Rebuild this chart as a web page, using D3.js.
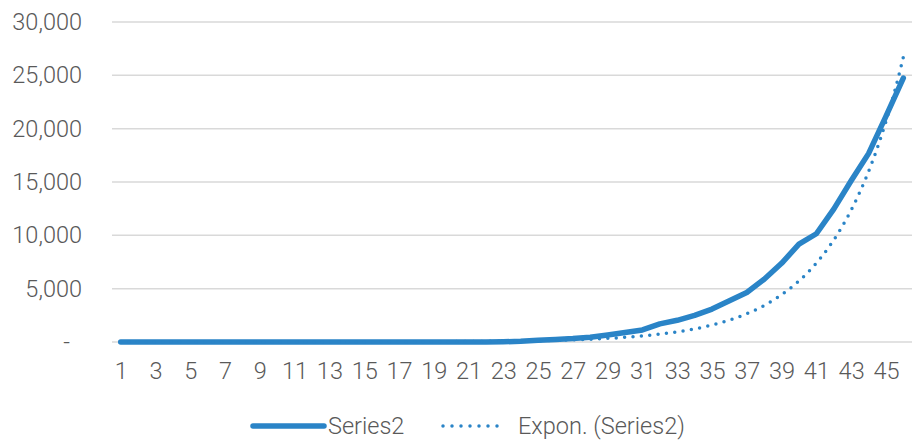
<!DOCTYPE html>
<html>
<head>
<meta charset="utf-8">
<script src="https://cdn.jsdelivr.net/npm/d3@7/dist/d3.min.js"></script>
<style>
  html, body { margin: 0; padding: 0; background: #fff; }
  svg { display: block; }
  text { font-family: Roboto, "Liberation Sans", Arial, sans-serif; font-weight: 300; fill: #595959; }
</style>
</head>
<body>
<svg id="chart" width="912" height="440"></svg>
<script>
// ---- Data ----
const categories = [1,2,3,4,5,6,7,8,9,10,11,12,13,14,15,16,17,18,19,20,21,22,23,24,25,26,27,28,29,30,31,32,33,34,35,36,37,38,39,40,41,42,43,44,45,46];
const series2 = [2,2,2,2,2,2,2,2,3,3,3,3,3,3,3,3,3,3,3,3,3,3,20,62,155,229,322,453,655,888,1128,1694,2036,2502,3089,3858,4636,5883,7375,9172,10149,12462,15113,17660,21157,24747];
const yTicks = [0,5000,10000,15000,20000,25000,30000];
const xTickLabels = [1,3,5,7,9,11,13,15,17,19,21,23,25,27,29,31,33,35,37,39,41,43,45];
const seriesNames = ["Series2", "Expon. (Series2)"];

// ---- Layout ----
const svg = d3.select("#chart");
const plot = { left: 112, right: 912, top: 22, bottom: 342 };
const blue = "#2A84C7";
const grid = "#D9D9D9";
const fs = 23.5;

const x = d3.scalePoint().domain(categories).range([plot.left, plot.right]).padding(0.5);
const y = d3.scaleLinear().domain([0, 30000]).range([plot.bottom, plot.top]);
const xLin = d3.scaleLinear().domain([categories[0], categories[categories.length-1]])
  .range([x(categories[0]), x(categories[categories.length-1])]);

// gridlines
svg.append("g").selectAll("line").data(yTicks).join("line")
  .attr("x1", plot.left).attr("x2", plot.right)
  .attr("y1", d => y(d)).attr("y2", d => y(d))
  .attr("stroke", grid).attr("stroke-width", 1.5);

// y axis labels
const fmt = d3.format(",");
const yAxis = svg.append("g").attr("transform", `translate(82,0)`)
  .call(d3.axisLeft(y).tickValues(yTicks).tickSize(0).tickPadding(0)
    .tickFormat(d => d === 0 ? "-" : fmt(d)));
yAxis.select(".domain").remove();
yAxis.selectAll("text")
  .attr("font-size", fs).attr("fill", "#595959")
  .attr("font-family", null)
  .attr("dx", d => d === 0 ? -12 : 0);

// x axis labels
const xAxis = svg.append("g").attr("transform", `translate(0,${plot.bottom})`)
  .call(d3.axisBottom(x).tickValues(xTickLabels).tickSize(0).tickPadding(20));
xAxis.select(".domain").remove();
xAxis.selectAll("text").attr("font-size", fs).attr("fill", "#595959").attr("font-family", null);

// series line
const line = d3.line().x((d, i) => x(categories[i])).y(d => y(d));
svg.append("path").datum(series2)
  .attr("d", line)
  .attr("fill", "none").attr("stroke", blue).attr("stroke-width", 5.5)
  .attr("stroke-linejoin", "round").attr("stroke-linecap", "round");

// exponential trendline (least squares on ln y, as the spreadsheet does)
const n = categories.length;
const lx = categories, ly = series2.map(v => Math.log(v));
const mx = d3.mean(lx), my = d3.mean(ly);
let sxy = 0, sxx = 0;
for (let i = 0; i < n; i++) { sxy += (lx[i]-mx)*(ly[i]-my); sxx += (lx[i]-mx)*(lx[i]-mx); }
const b = sxy / sxx, lna = my - b * mx;
const steps = 400;
const trendPts = [];
for (let k = 0; k <= steps; k++) {
  const t = lx[0] + (lx[n-1]-lx[0]) * k / steps;
  trendPts.push([t, Math.exp(lna + b * t)]);
}
svg.append("path").datum(trendPts)
  .attr("d", d3.line().x(d => xLin(d[0])).y(d => y(d[1])))
  .attr("fill", "none").attr("stroke", blue).attr("stroke-width", 3.5)
  .attr("stroke-linecap", "round").attr("stroke-dasharray", "0 8.4");

// legend
const lg = svg.append("g");
const ly0 = 426;
lg.append("line").attr("x1", 253).attr("x2", 324).attr("y1", ly0).attr("y2", ly0)
  .attr("stroke", blue).attr("stroke-width", 5.5).attr("stroke-linecap", "round");
lg.append("text").attr("x", 328).attr("y", ly0).attr("dy", "0.35em")
  .attr("font-size", fs).text(seriesNames[0]);
lg.append("line").attr("x1", 443).attr("x2", 506).attr("y1", ly0).attr("y2", ly0)
  .attr("stroke", blue).attr("stroke-width", 3.5).attr("stroke-linecap", "round")
  .attr("stroke-dasharray", "0 9");
lg.append("text").attr("x", 518).attr("y", ly0).attr("dy", "0.35em")
  .attr("font-size", fs).text(seriesNames[1]);
</script>
</body>
</html>
